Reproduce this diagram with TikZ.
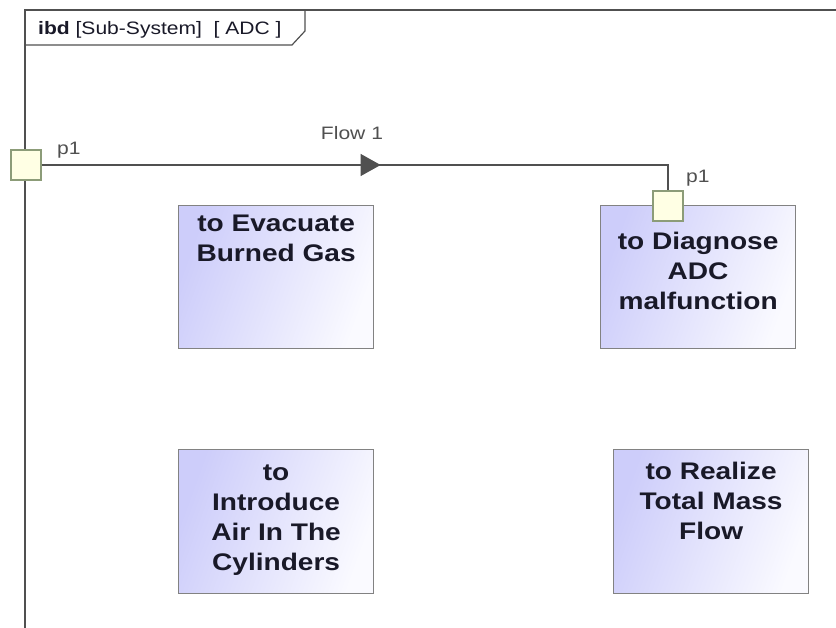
\documentclass[tikz,border=0pt]{standalone}
\usepackage{fontspec}
\setmainfont[FakeStretch=1.17]{Liberation Sans}
\usetikzlibrary{arrows.meta,decorations.markings}
\definecolor{framecol}{RGB}{80,80,80}
\definecolor{boxborder}{RGB}{130,130,130}
\definecolor{lav}{RGB}{205,205,250}
\definecolor{lavlight}{RGB}{250,250,255}
\definecolor{portfill}{RGB}{255,255,228}
\definecolor{portborder}{RGB}{140,156,120}
\definecolor{txt}{RGB}{25,25,40}
\begin{document}
\begin{tikzpicture}[x=1pt,y=-1pt,
  blockbox/.style={draw=boxborder, line width=1.2pt, left color=lav, right color=lavlight, shading angle=70, minimum width=195pt, minimum height=143pt, inner sep=0pt, anchor=north west},
  blocktext/.style={anchor=north, align=center, inner sep=0pt, font=\fontsize{24}{30}\selectfont\bfseries, text=txt},
  portbox/.style={draw=portborder, fill=portfill, line width=1.2pt, minimum width=30pt, minimum height=30pt, inner sep=0pt},
  smalltext/.style={font=\fontsize{18}{21}\selectfont, text=framecol, inner sep=0pt},
  flow/.style={draw=framecol, line width=1.2pt, postaction={decorate},
    decoration={markings, mark=at position 339pt with {\arrow{Triangle[width=22pt,length=20pt]}}}}
]
\useasboundingbox (0,0) rectangle (836,628);
\fill[white] (0,0) rectangle (836,628);
% frame
\draw[framecol, line width=1.2pt] (836,10) -- (25,10) -- (25,628);
\draw[framecol, line width=1.2pt] (25,45) -- (292,45) -- (305,31) -- (305,10);
\node[smalltext, anchor=base west, text=txt] (hdr) at (38,35) {\textbf{ibd} [Sub-System]\ \ [ ADC ]};
% blocks
\node[blockbox] (evac) at (178,205) {};
\node[blockbox] (diag) at (600,205) {};
\node[blockbox, minimum height=144pt] (intro) at (178,449) {};
\node[blockbox, minimum height=144pt] (real) at (613,449) {};
\node[blocktext] (evact) at ([yshift=-10pt]evac.north) {to Evacuate\\Burned Gas};
\node[blocktext] (diagt) at ([yshift=-27pt]diag.north) {to Diagnose\\ADC\\malfunction};
\node[blocktext] (introt) at ([yshift=-16pt]intro.north) {to\\Introduce\\Air In The\\Cylinders};
\node[blocktext] (realt) at ([yshift=-13pt]real.north) {to Realize\\Total Mass\\Flow};
% ports
\node[portbox] (lp) at (26,165) {};
\node[portbox] (rp) at (668,206) {};
\node[smalltext, anchor=base west] (lpl) at (57,155) {p1};
\node[smalltext, anchor=base west] (rpl) at (686,183) {p1};
% connector
\draw[flow] (lp.east) -- (rp.north |- lp.east) -- (rp.north);
\node[smalltext, anchor=base] (flowl) at (352,140) {Flow 1};
\end{tikzpicture}
\end{document}
